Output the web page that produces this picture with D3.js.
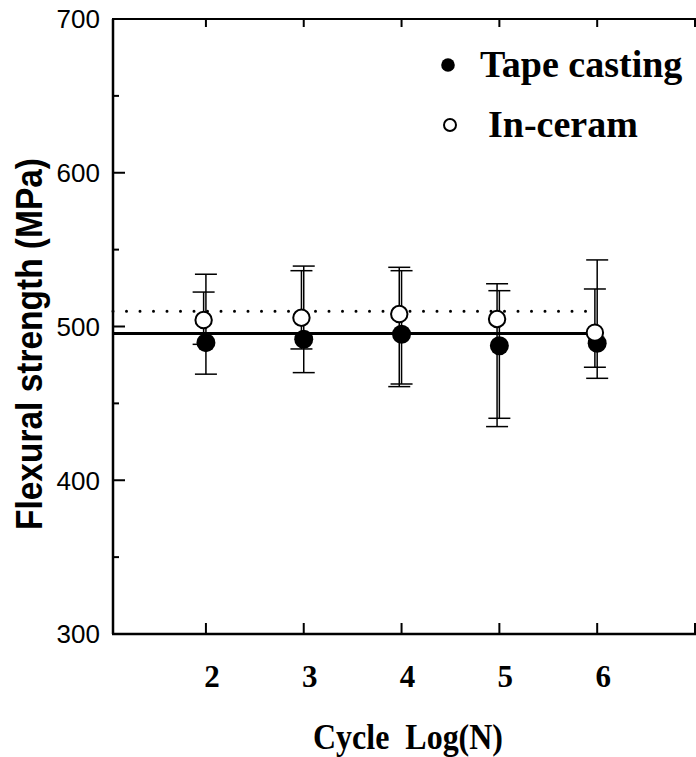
<!DOCTYPE html>
<html>
<head>
<meta charset="utf-8">
<script src="https://cdn.jsdelivr.net/npm/d3@7"></script>
<style>
  body { margin: 0; background: #fff; }
  svg { display: block; }
</style>
</head>
<body>
<svg id="chart" width="696" height="757"></svg>
<script>
// --- Données ---
const cycles = [2, 3, 4, 5, 6];
const tapeMean = [489.5, 491.7, 494.9, 487.5, 489.1];
const tapeLow = [469.0, 470.0, 462.6, 440.3, 466.3];
const tapeHigh = [534.0, 539.3, 536.3, 523.3, 543.3];
const inceramMean = [504.2, 505.7, 508.1, 504.9, 496.0];
const inceramLow = [488.4, 485.4, 460.9, 434.9, 473.5];
const inceramHigh = [522.4, 536.3, 538.5, 527.8, 524.4];
const tapeLevel = 495.5;     // ligne pleine
const inceramLevel = 510;    // ligne pointillée
const yTicks = [300, 400, 500, 600, 700];
const yMinor = [350, 450, 550, 650];
const xTicks = [2, 3, 4, 5, 6, 7];

const svg = d3.select("#chart");

const x = d3.scaleLinear().domain([1.05, 7]).range([113, 695]);
const y = d3.scaleLinear().domain([300, 700]).range([634, 19]);

const shift = -2.3; // petit décalage horizontal de la série In-ceram

const tape = cycles.map((c, i) => ({c, m: tapeMean[i], lo: tapeLow[i], hi: tapeHigh[i], dx: 0}));
const inceram = cycles.map((c, i) => ({c, m: inceramMean[i], lo: inceramLow[i], hi: inceramHigh[i], dx: shift}));

// --- Axes ---
const axes = svg.append("g").attr("stroke", "#000").attr("fill", "none");
axes.append("line")
    .attr("x1", x(1.05)).attr("x2", x(1.05)).attr("y1", y(700)).attr("y2", y(300))
    .attr("stroke-width", 2.5);
axes.append("line")
    .attr("x1", x(1.05) - 1).attr("x2", 700).attr("y1", y(300)).attr("y2", y(300))
    .attr("stroke-width", 2.5);
axes.append("line")
    .attr("x1", x(1.05) - 1).attr("x2", 700).attr("y1", y(700)).attr("y2", y(700))
    .attr("stroke-width", 2);

// graduations Y (vers l'intérieur)
axes.selectAll(".ymaj").data(yTicks.filter(d => d > 300 && d < 700)).enter().append("line")
    .attr("x1", x(1.05)).attr("x2", x(1.05) + 12)
    .attr("y1", d => y(d)).attr("y2", d => y(d))
    .attr("stroke-width", 2);
axes.selectAll(".ymin").data(yMinor).enter().append("line")
    .attr("x1", x(1.05)).attr("x2", x(1.05) + 6)
    .attr("y1", d => y(d)).attr("y2", d => y(d))
    .attr("stroke-width", 2);

// graduations X (bas et haut)
axes.selectAll(".xb").data(xTicks).enter().append("line")
    .attr("x1", d => x(d)).attr("x2", d => x(d))
    .attr("y1", y(300)).attr("y2", y(300) - 11)
    .attr("stroke-width", 2);
axes.selectAll(".xt").data(xTicks).enter().append("line")
    .attr("x1", d => x(d)).attr("x2", d => x(d))
    .attr("y1", y(700)).attr("y2", y(700) + 8)
    .attr("stroke-width", 2);

// étiquettes
svg.selectAll(".ylab").data(yTicks).enter().append("text")
    .attr("x", 100).attr("y", d => y(d)).attr("dy", "0.36em")
    .attr("text-anchor", "end")
    .attr("font-family", "Liberation Sans, Arial, sans-serif")
    .attr("font-size", 26)
    .text(d => d);

svg.selectAll(".xlab").data(xTicks.filter(d => d <= 6)).enter().append("text")
    .attr("x", d => x(d) + 6).attr("y", 687)
    .attr("text-anchor", "middle")
    .attr("font-family", "Liberation Serif, Times New Roman, serif")
    .attr("font-weight", "bold")
    .attr("font-size", 31)
    .text(d => d);

svg.append("text")
    .attr("x", 313).attr("y", 749)
    .attr("font-family", "Liberation Serif, Times New Roman, serif")
    .attr("font-weight", "bold")
    .attr("font-size", 36)
    .attr("textLength", 190).attr("lengthAdjust", "spacingAndGlyphs")
    .attr("xml:space", "preserve")
    .text("Cycle  Log(N)");

svg.append("text")
    .attr("transform", "translate(42,344) rotate(-90)")
    .attr("text-anchor", "middle")
    .attr("font-family", "Liberation Sans, Arial, sans-serif")
    .attr("font-weight", "bold")
    .attr("font-size", 36)
    .attr("textLength", 372).attr("lengthAdjust", "spacingAndGlyphs")
    .text("Flexural strength (MPa)");

// --- Lignes de niveau ---
svg.append("line")
    .attr("x1", x(1.05)).attr("x2", x(6))
    .attr("y1", y(inceramLevel)).attr("y2", y(inceramLevel))
    .attr("stroke", "#000").attr("stroke-width", 3)
    .attr("stroke-linecap", "round").attr("stroke-dasharray", "0 13.5");
svg.append("line")
    .attr("x1", x(1.05)).attr("x2", x(6))
    .attr("y1", y(tapeLevel)).attr("y2", y(tapeLevel))
    .attr("stroke", "#000").attr("stroke-width", 3);

// --- Barres d'erreur ---
function errorBars(data) {
    const g = svg.append("g").attr("stroke", "#000").attr("stroke-width", 1.5);
    g.selectAll(".v").data(data).enter().append("line")
        .attr("x1", d => x(d.c) + d.dx).attr("x2", d => x(d.c) + d.dx)
        .attr("y1", d => y(d.lo)).attr("y2", d => y(d.hi));
    ["lo", "hi"].forEach(k => {
        g.selectAll(".c" + k).data(data).enter().append("line")
            .attr("x1", d => x(d.c) + d.dx - 11).attr("x2", d => x(d.c) + d.dx + 11)
            .attr("y1", d => y(d[k])).attr("y2", d => y(d[k]));
    });
}
errorBars(tape);
errorBars(inceram);

// --- Points ---
svg.selectAll(".tape").data(tape).enter().append("circle")
    .attr("cx", d => x(d.c) + d.dx).attr("cy", d => y(d.m))
    .attr("r", 9.5).attr("fill", "#000");
svg.selectAll(".inceram").data(inceram).enter().append("circle")
    .attr("cx", d => x(d.c) + d.dx).attr("cy", d => y(d.m))
    .attr("r", 8.2).attr("fill", "#fff").attr("stroke", "#000").attr("stroke-width", 2);

// --- Légende ---
const legend = svg.append("g")
    .attr("font-family", "Liberation Serif, Times New Roman, serif")
    .attr("font-weight", "bold")
    .attr("font-size", 38);
legend.append("circle").attr("cx", 448).attr("cy", 65).attr("r", 6.8).attr("fill", "#000");
legend.append("text").attr("x", 480).attr("y", 77).text("Tape casting");
legend.append("circle").attr("cx", 450).attr("cy", 125).attr("r", 6)
    .attr("fill", "#fff").attr("stroke", "#000").attr("stroke-width", 2);
legend.append("text").attr("x", 488).attr("y", 137).text("In-ceram");
</script>
</body>
</html>
